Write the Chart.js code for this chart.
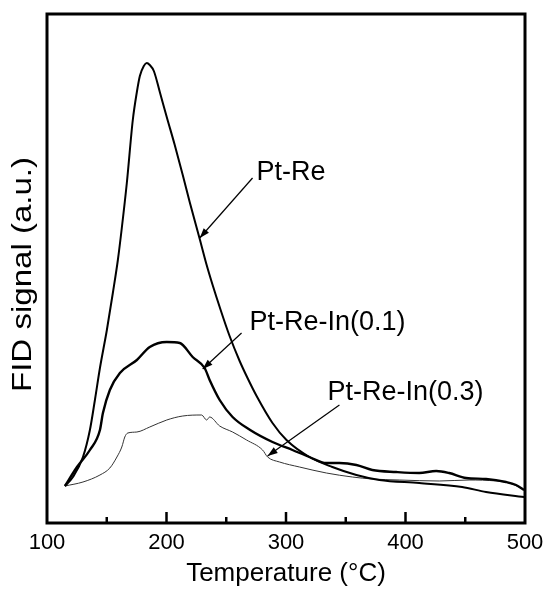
<!DOCTYPE html>
<html>

<head>
    <title>FID signal vs temperature</title>
    <style>
        body { margin: 0; background: #fff; }
    </style>
</head>

<body>
    <canvas id="myChart" width="544" height="589"></canvas>
    <script src="https://cdn.jsdelivr.net/npm/chart.js@4"></script>

    <script type="text/javascript">
        // temperatures (°C) and signal (a.u.)
        const ptReT = [115, 121.7, 130.1, 135.9, 140.1, 144.3, 150.1, 155.1, 159.3, 162.6, 166.8, 171.8, 175.2, 177.7, 181, 183.5, 186, 189.4, 194.4, 200.2, 206.9, 213.6, 219.4, 227.8, 233.6, 238.6, 244.5, 252.8, 261.2, 267.8, 275.4, 288.7, 300.4, 319.6, 338.8, 358.9, 378.1, 411.5, 447.4, 467.4, 499.2];
        const ptReY = [37, 46, 66, 93, 123, 155, 193, 230, 263, 295, 340, 403, 431, 447, 457, 460, 458, 452, 431, 406, 378, 348, 321, 284, 258, 238, 216, 187, 162, 145, 127, 100, 83, 66, 56, 48, 43, 40, 36, 31, 26];

        const ptReIn1T = [115, 125.1, 135.9, 144.3, 146.8, 152.6, 161, 175.2, 186, 200.2, 211.1, 221.9, 231.9, 236.1, 244.5, 255.3, 270, 288.7, 305.4, 319.6, 333.8, 344.7, 358.9, 372.2, 392.3, 411.5, 425.7, 436.5, 450.7, 467.4, 484.1, 492.5, 499.2];
        const ptReIn1Y = [37, 56, 73, 93, 110, 133, 150, 163, 176, 181, 180, 166, 155, 143, 123, 106, 93, 81, 73, 66, 60, 60, 58, 53, 51, 50, 52, 50, 45, 44, 41, 38, 33];

        const ptReIn3T = [115, 130.1, 144.3, 152.6, 158.5, 162.6, 165.1, 167.6, 175.2, 186, 200.2, 213.6, 229.4, 233.6, 236.1, 244.5, 255.3, 267, 280.4, 284.6, 294.6, 311.3, 333.8, 355.5, 372.2, 394.8, 428.2, 453.2, 475.8, 486.6, 495, 499.2];
        const ptReIn3Y = [37, 41, 48, 55, 66, 76, 86, 90, 91, 96, 103, 107, 108, 103, 106, 97, 91, 83, 73, 66, 61, 56, 50, 46, 44, 43, 42, 43, 42, 40, 36, 33];

        const xTicks = [100, 200, 300, 400, 500];

        // labels and their arrows, in data units
        const noteText = ['Pt-Re', 'Pt-Re-In(0.1)', 'Pt-Re-In(0.3)'];
        const noteAt = [[275.4, 343], [269.5, 193], [334.7, 123]];
        const arrowFrom = [[272, 345], [262.8, 190], [344.7, 118]];
        const arrowTo = [[227.8, 285], [230.3, 154], [284.6, 67]];

        const yTitle = 'FID signal (a.u.)';
        const FONT = '"Liberation Sans", Arial, sans-serif';

        function pts(xs, ys) {
            return xs.map((x, i) => ({ x: x, y: ys[i] }));
        }

        const framePlugin = {
            id: 'frame',
            afterDraw(chart) {
                const ctx = chart.ctx;
                const a = chart.chartArea;
                const xs = chart.scales.x;
                const ys = chart.scales.y;
                ctx.save();
                ctx.strokeStyle = '#000';
                ctx.lineWidth = 3;
                ctx.strokeRect(a.left, a.top, a.right - a.left, a.bottom - a.top);
                // inward ticks
                ctx.lineWidth = 2.5;
                xs.ticks.forEach(t => {
                    if (t.value <= xs.min || t.value >= xs.max) return;
                    const px = xs.getPixelForValue(t.value);
                    const len = xTicks.includes(t.value) ? 11 : 6;
                    ctx.beginPath();
                    ctx.moveTo(px, a.bottom);
                    ctx.lineTo(px, a.bottom - len);
                    ctx.stroke();
                });
                // y title, slightly stretched like the original
                ctx.fillStyle = '#000';
                ctx.save();
                ctx.translate(31, (a.top + a.bottom) / 2 + 6);
                ctx.rotate(-Math.PI / 2);
                ctx.scale(1.18, 1);
                ctx.font = '28px ' + FONT;
                ctx.textAlign = 'center';
                ctx.textBaseline = 'alphabetic';
                ctx.fillText(yTitle, 0, 0);
                ctx.restore();
                // annotations
                ctx.font = '27px ' + FONT;
                ctx.textBaseline = 'alphabetic';
                for (let i = 0; i < noteText.length; i++) {
                    ctx.fillText(noteText[i], xs.getPixelForValue(noteAt[i][0]), ys.getPixelForValue(noteAt[i][1]));
                    const x1 = xs.getPixelForValue(arrowFrom[i][0]), y1 = ys.getPixelForValue(arrowFrom[i][1]);
                    const x2 = xs.getPixelForValue(arrowTo[i][0]), y2 = ys.getPixelForValue(arrowTo[i][1]);
                    ctx.lineWidth = 1.2;
                    ctx.beginPath();
                    ctx.moveTo(x1, y1);
                    ctx.lineTo(x2, y2);
                    ctx.stroke();
                    const ang = Math.atan2(y2 - y1, x2 - x1);
                    ctx.beginPath();
                    ctx.moveTo(x2, y2);
                    ctx.lineTo(x2 - 10 * Math.cos(ang) + 3.5 * Math.sin(ang), y2 - 10 * Math.sin(ang) - 3.5 * Math.cos(ang));
                    ctx.lineTo(x2 - 10 * Math.cos(ang) - 3.5 * Math.sin(ang), y2 - 10 * Math.sin(ang) + 3.5 * Math.cos(ang));
                    ctx.closePath();
                    ctx.fill();
                }
                ctx.restore();
            }
        };

        const ctx = document.getElementById('myChart').getContext('2d');
        new Chart(ctx, {
            type: 'line',
            data: {
                datasets: [{
                    label: 'Pt-Re',
                    data: pts(ptReT, ptReY),
                    borderColor: '#000',
                    borderWidth: 2,
                    pointRadius: 0,
                    cubicInterpolationMode: 'monotone',
                    fill: false
                }, {
                    label: 'Pt-Re-In(0.1)',
                    data: pts(ptReIn1T, ptReIn1Y),
                    borderColor: '#000',
                    borderWidth: 2.4,
                    pointRadius: 0,
                    cubicInterpolationMode: 'monotone',
                    fill: false
                }, {
                    label: 'Pt-Re-In(0.3)',
                    data: pts(ptReIn3T, ptReIn3Y),
                    borderColor: '#333',
                    borderWidth: 1,
                    pointRadius: 0,
                    cubicInterpolationMode: 'monotone',
                    fill: false
                }]
            },
            options: {
                responsive: false,
                animation: false,
                layout: { padding: { top: 14, right: 19, left: 0, bottom: 0 } },
                plugins: {
                    legend: { display: false },
                    tooltip: { enabled: false }
                },
                scales: {
                    x: {
                        type: 'linear',
                        min: 100,
                        max: 500,
                        afterFit: s => { s.height = 66; s.paddingLeft = 0; s.paddingRight = 0; },
                        grid: { display: false, drawTicks: false },
                        border: { display: false },
                        ticks: {
                            stepSize: 50,
                            autoSkip: false,
                            maxRotation: 0,
                            padding: 7,
                            color: '#000',
                            font: { family: FONT, size: 22 },
                            callback: v => xTicks.includes(v) ? String(v) : ''
                        },
                        title: {
                            display: true,
                            text: 'Temperature (°C)',
                            color: '#000',
                            padding: { top: 0, bottom: 0 },
                            font: { family: FONT, size: 26 }
                        }
                    },
                    y: {
                        min: 0,
                        max: 509,
                        afterFit: s => { s.width = 47; },
                        grid: { display: false, drawTicks: false },
                        border: { display: false },
                        ticks: { display: false }
                    }
                }
            },
            plugins: [framePlugin]
        });
    </script>
</body>

</html>
